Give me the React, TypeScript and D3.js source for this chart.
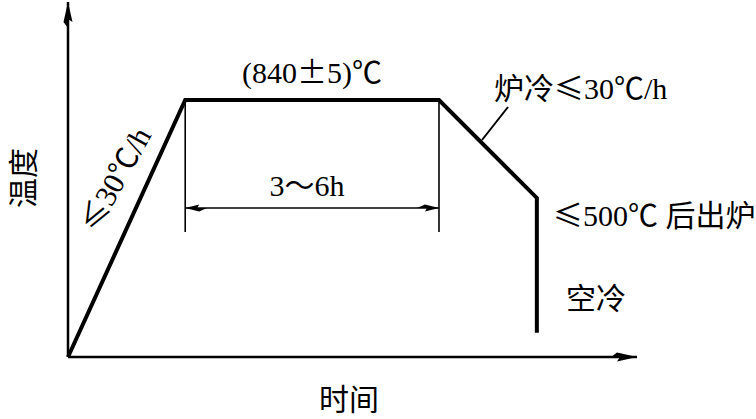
import React, { useEffect, useRef } from 'react';
import * as d3 from 'd3';

// schematic process curve (relative units, not to scale)
const times = [0, 20.6, 65.2, 82.4, 82.4];
const temps = [0, 72.4, 72.4, 44.8, 6.8];

// hold span dimension (3~6h)
const holdStart = 20.6;
const holdEnd = 65.2;

const labels = {
  hold: '(840±5)℃',
  holdTime: '3～6h',
  heatRate: '≤30℃/h',
  coolRate: '炉冷≤30℃/h',
  outTemp: '≤500℃ 后出炉',
  airCool: '空冷',
  xTitle: '时间',
  yTitle: '温度',
};

const W = 756;
const H = 419;
const SERIF = '"Liberation Serif", "DejaVu Serif", serif';
const CJK = '"Noto Sans CJK SC", sans-serif';
// glyphs drawn full-width, like the book's typesetting
const WIDE = /[≤±℃～\u4e00-\u9fff]/;

export default function App() {
  const svgRef = useRef<SVGSVGElement | null>(null);

  useEffect(() => {
    const svg = d3.select(svgRef.current);
    svg.selectAll('*').remove();

    const x = d3.scaleLinear().domain([0, 100]).range([68, 637]);
    const y = d3.scaleLinear().domain([0, 100]).range([357, 2]);

    // arrow markers (drafting style, concave back)
    const defs = svg.append('defs');
    defs.append('marker')
      .attr('id', 'arr')
      .attr('viewBox', '0 0 26 10')
      .attr('refX', 26).attr('refY', 5)
      .attr('markerWidth', 26).attr('markerHeight', 10)
      .attr('markerUnits', 'userSpaceOnUse')
      .attr('orient', 'auto-start-reverse')
      .append('path')
      .attr('d', 'M0,5 L6,0.5 L26,5 L6,9.5 L9,5 Z')
      .attr('fill', '#000');
    defs.append('marker')
      .attr('id', 'arrs')
      .attr('viewBox', '0 0 22 8')
      .attr('refX', 22).attr('refY', 4)
      .attr('markerWidth', 22).attr('markerHeight', 8)
      .attr('markerUnits', 'userSpaceOnUse')
      .attr('orient', 'auto-start-reverse')
      .append('path')
      .attr('d', 'M0,4 L8,0.5 L22,4 L8,7.5 L10,4 Z')
      .attr('fill', '#000');

    // axes
    svg.append('line')
      .attr('x1', x(0)).attr('y1', y(0))
      .attr('x2', x(0)).attr('y2', y(100))
      .attr('stroke', '#000').attr('stroke-width', 2.5)
      .attr('marker-end', 'url(#arr)');
    svg.append('line')
      .attr('x1', x(0)).attr('y1', y(0))
      .attr('x2', x(100)).attr('y2', y(0))
      .attr('stroke', '#000').attr('stroke-width', 2.5)
      .attr('marker-end', 'url(#arr)');

    // extension lines + dimension line
    const plateau = temps[1];
    [holdStart, holdEnd].forEach(t => {
      svg.append('line')
        .attr('x1', x(t)).attr('y1', y(plateau))
        .attr('x2', x(t)).attr('y2', 232)
        .attr('stroke', '#000').attr('stroke-width', 1.6);
    });
    svg.append('line')
      .attr('x1', x(holdStart)).attr('y1', 208)
      .attr('x2', x(holdEnd)).attr('y2', 208)
      .attr('stroke', '#000').attr('stroke-width', 1.4)
      .attr('marker-start', 'url(#arrs)')
      .attr('marker-end', 'url(#arrs)');

    // process curve
    const line = d3.line<number>()
      .x((_, i) => x(times[i]))
      .y(d => y(d));
    svg.append('path')
      .attr('d', line(temps))
      .attr('fill', 'none')
      .attr('stroke', '#000')
      .attr('stroke-width', 4)
      .attr('stroke-linejoin', 'miter');

    // leader for furnace cooling
    svg.append('line')
      .attr('x1', 482).attr('y1', 140)
      .attr('x2', 508).attr('y2', 107)
      .attr('stroke', '#000').attr('stroke-width', 2);

    const txt = (s: string, px: number, py: number, size: number, anchor = 'start', rot = 0) => {
      const t = svg.append('text')
        .attr('transform', `translate(${px},${py}) rotate(${rot})`)
        .attr('text-anchor', anchor)
        .attr('font-size', size)
        .attr('fill', '#000')
        .attr('xml:space', 'preserve');
      // split into runs: wide glyphs in the CJK face, the rest serif
      const runs: { s: string; wide: boolean }[] = [];
      for (const ch of s) {
        const wide = WIDE.test(ch);
        const last = runs[runs.length - 1];
        if (last && last.wide === wide) last.s += ch;
        else runs.push({ s: ch, wide });
      }
      runs.forEach(r => {
        t.append('tspan')
          .attr('font-family', r.wide ? CJK : SERIF)
          .text(r.s);
      });
    };

    const mid = (x(holdStart) + x(holdEnd)) / 2;
    txt(labels.hold, mid, 83, 30, 'middle');
    txt(labels.holdTime, mid - 5, 196, 30, 'middle');
    txt(labels.coolRate, 494, 99, 30);
    txt(labels.outTemp, 553, 226, 30);
    txt(labels.airCool, 566, 309, 30);
    txt(labels.xTitle, 349, 410, 30, 'middle');
    txt(labels.yTitle, 34, 178, 30, 'middle', -90);
    txt(labels.heatRate, 97, 234, 30, 'start', -61);
  }, []);

  return (
    <svg ref={svgRef} width={W} height={H}
      style={{ position: 'absolute', left: 0, top: 0, background: '#fff' }} />
  );
}
